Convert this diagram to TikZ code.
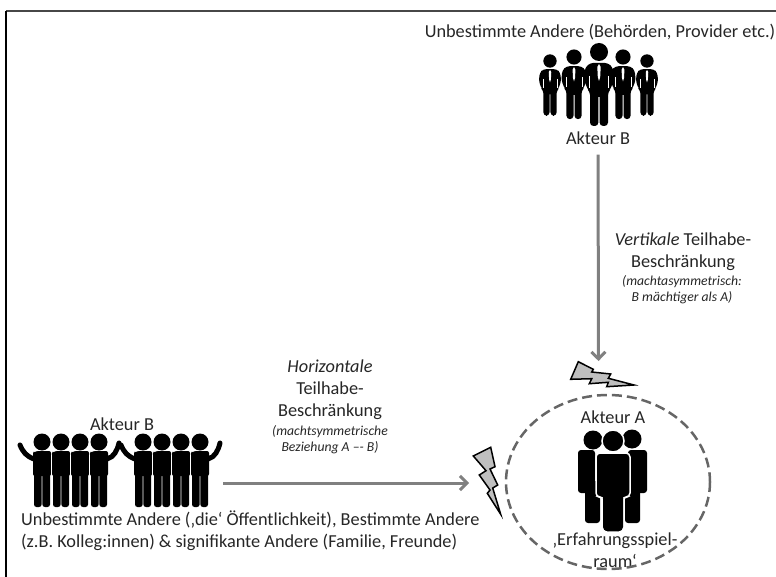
\documentclass[tikz,border=0pt]{standalone}
\usepackage{fontspec}
\setmainfont{Carlito}
\usetikzlibrary{positioning,arrows.meta}
\definecolor{textgray}{HTML}{262626}
\definecolor{linegray}{HTML}{808080}
\definecolor{dashgray}{HTML}{666666}
\definecolor{boltgray}{HTML}{BFBFBF}
\tikzstyle{label} = [text=textgray, font=\fontsize{18.3}{22}\selectfont, align=center, inner sep=0pt]
\tikzstyle{smalllabel} = [text=textgray, font=\fontsize{13.7}{16}\selectfont\itshape, align=center, inner sep=0pt]
\tikzstyle{line} = [draw=linegray, line width=3pt, -{Straight Barb[length=7pt,width=14pt]}]
\tikzstyle{bolt} = [draw=black, fill=boltgray, line width=1.5pt, line join=miter]
\tikzset{
  suit/.pic={
    \fill (0,0) circle [radius=9];
    \fill[rounded corners=3] (-9,11) -- (9,11) -- (14,16) -- (15,28) -- (11,38) -- (9,40) -- (9,45) -- (-9,45) -- (-9,40) -- (-11,38) -- (-15,28) -- (-14,16) -- cycle;
    \fill[rounded corners=3.5] (-9,38) rectangle (-0.6,74);
    \fill[rounded corners=3.5] (0.6,38) rectangle (9,74);
    \fill[white] (0,12) -- (-1.7,15) -- (-1.2,25) -- (0,29) -- (1.2,25) -- (1.7,15) -- cycle;
    \draw[white, line width=.7pt] (-9.5,24) -- (-9.5,36) (9.5,24) -- (9.5,36);
  },
  fans/.pic={
    \foreach \p in {0,19,38,57} {
      \fill (\p,0) circle [radius=8.5];
      \fill[rounded corners=2] (\p-9,9) rectangle (\p+9,34);
      \fill[rounded corners=2.5] (\p-8,30) rectangle (\p-.4,65);
      \fill[rounded corners=2.5] (\p+.4,30) rectangle (\p+8,65);
      \draw[white, line width=.7pt] (\p-9,10) -- (\p-4,8.5);
    }
    \foreach \p in {9.5,28.5,47.5} \draw[white, line width=.8pt] (\p,13) -- (\p,66);
    \draw[line width=5pt, line cap=round] (-8,17) .. controls (-16,14) and (-19,10) .. (-22,3);
    \draw[line width=5pt, line cap=round] (65,17) .. controls (72,15) and (75,9) .. (77,1);
  },
  crowd/.pic={
    \fill (-20,-1) circle [radius=9.5];
    \fill (19,-2) circle [radius=9.5];
    \fill[rounded corners=3] (-35,9) rectangle (-18,52);
    \fill[rounded corners=3] (15,9) rectangle (34,52);
    \fill[rounded corners=3] (-28,40) rectangle (-13,82);
    \fill[rounded corners=3] (12,40) rectangle (27,82);
    \draw[white, line width=1.5pt, fill=black] (0,0) circle [radius=11];
    \draw[white, line width=1.5pt, fill=black, rounded corners=4] (-17,12) -- (17,12) -- (17,56) -- (10,56) -- (10,91) -- (-10,91) -- (-10,56) -- (-17,56) -- cycle;
    \fill[rounded corners=4] (-10,50) rectangle (-.5,90);
    \fill[rounded corners=4] (.5,50) rectangle (10,90);
  }
}

\begin{document}
\begin{tikzpicture}[x=1pt, y=-1pt]
        \useasboundingbox (0,0) rectangle (776,577);
        % Frame
        \coordinate (nw) at (6,11);
        \coordinate (ne) at (776,11);
        \coordinate (sw) at (6,577);
        \draw [dashgray!70!black, line width=1.5pt] (nw) -- (ne);
        \draw [black, line width=2pt] (nw) -- (sw);
        % Figures
        \pic [scale=.74] at (550,61) {suit};
        \pic [scale=.74] at (647,61) {suit};
        \pic [scale=.84] at (574,57) {suit};
        \pic [scale=.84] at (623,57) {suit};
        \pic at (599,52) {suit};
        \pic at (42,442) {fans};
        \pic at (143,442) {fans};
        \pic at (613,441) {crowd};
        % Place nodes
        \node [label] (topother) at (600,32) {Unbestimmte Andere (Behörden, Provider etc.)};
        \node [label] (actorbtop) at (598,138) {Akteur B};
        \node [label] (vertical) at (683,251.5) {\textit{Vertikale} Teilhabe-\\Beschränkung};
        \node [smalllabel] (verticalnote) at (682,289.5) {(machtasymmetrisch:\\B mächtiger als A)};
        \node [label] (horizontal) at (330,390) {\textit{Horizontale}\\Teilhabe-\\Beschränkung};
        \node [smalllabel] (horizontalnote) at (330,440) {(machtsymmetrische\\Beziehung A --{}- B)};
        \node [label] (actorbleft) at (122,424) {Akteur B};
        \node [label, align=left, anchor=west] (leftother) at (21,530.5) {Unbestimmte Andere (‚die‘ Öffentlichkeit), Bestimmte Andere\\(z.B. Kolleg:innen) \& signifikante Andere (Familie, Freunde)};
        \node [label] (actora) at (613,417) {Akteur A};
        \node [label] (space) at (615,550.5) {‚Erfahrungsspiel-\\raum‘};
        \coordinate (boltv) at (598.5,361);
        \coordinate (bolth) at (469,483);
        \coordinate (fanend) at (223,483);
        % Ellipse and bolts
        \draw [draw=dashgray, line width=2.5pt, dash pattern=on 10pt off 5pt] (608,482) ellipse [x radius=102, y radius=87];
        \draw [bolt] (578.3,361.7) -- (593.3,369.3) -- (591.7,372) -- (610.7,374) -- (608.3,378.3) -- (634,385) -- (606.7,386.7) -- (608.3,382.3) -- (589.3,383.7) -- (591.7,378.7) -- (570.7,379.3) -- cycle;
        \draw [bolt] (473.3,456) -- (490.7,447.3) -- (495,466.7) -- (490,469) -- (497.7,485) -- (492.7,488) -- (500.7,514.3) -- (487.3,493.3) -- (490,490) -- (479.3,475) -- (486,470.7) -- cycle;
        % Draw edges
        \path [line, shorten <=10pt] (actorbtop) -- (boltv);
        \path [line] (fanend) -- (bolth);
\end{tikzpicture}
\end{document}
